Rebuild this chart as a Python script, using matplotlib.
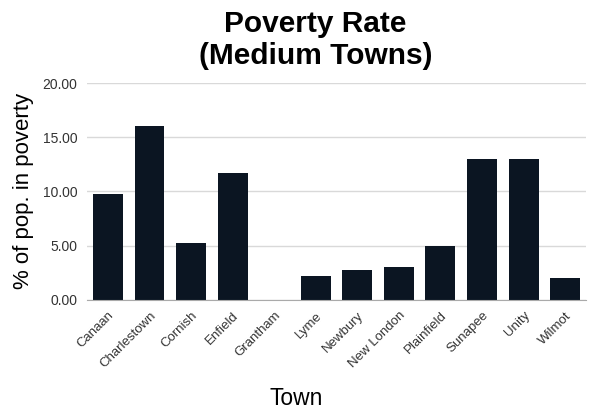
import numpy as np
import matplotlib.pyplot as plt

plt.rcParams["font.family"] = ["Liberation Sans", "DejaVu Sans"]

TOWNS = ["Canaan", "Charlestown", "Cornish", "Enfield", "Grantham", "Lyme",
         "Newbury", "New London", "Plainfield", "Sunapee", "Unity", "Wilmot"]
POVERTY = [9.72, 16.07, 5.23, 11.66, 0.0, 2.15, 2.74, 3.02, 4.99, 12.99, 13.0, 2.0]
Y_TICKS = [0, 5, 10, 15, 20]

BAR_COLOR = "#0b1522"


def main():
    fig = plt.figure(figsize=(5.93, 4.09), dpi=100)
    ax = fig.add_axes([0.147, 0.267, 0.841, 0.53])

    x = np.arange(len(TOWNS))
    ax.bar(x, POVERTY, width=0.72, color=BAR_COLOR, zorder=3)

    ax.set_xlim(-0.5, len(TOWNS) - 0.5)
    ax.set_ylim(0, 20)
    ax.set_yticks(Y_TICKS)
    ax.set_yticklabels([f"{v:.2f}" for v in Y_TICKS], fontsize=10, color="#333333")
    ax.set_xticks(x)
    ax.set_xticklabels(TOWNS, rotation=45, ha="right", rotation_mode="anchor",
                       fontsize=9.5, color="#333333")
    ax.tick_params(length=0, pad=7)

    ax.grid(axis="y", color="#d9d9d9", linewidth=1.0, zorder=0)
    for name in ["top", "right", "left"]:
        ax.spines[name].set_visible(False)
    ax.spines["bottom"].set_color("#aaaaaa")
    ax.spines["bottom"].set_zorder(4)

    ax.set_ylabel("% of pop. in poverty", fontsize=16, labelpad=6)
    # the axis title sits centred on the whole figure, not on the plot area
    ax.set_xlabel("Town", fontsize=16.5, labelpad=12, x=0.42)

    fig.suptitle("Poverty Rate\n(Medium Towns)", fontsize=21.5, fontweight="bold",
                 y=0.975, x=0.532, linespacing=1.15)

    fig.savefig("out.png", dpi=100)
    plt.close(fig)


if __name__ == "__main__":
    main()
